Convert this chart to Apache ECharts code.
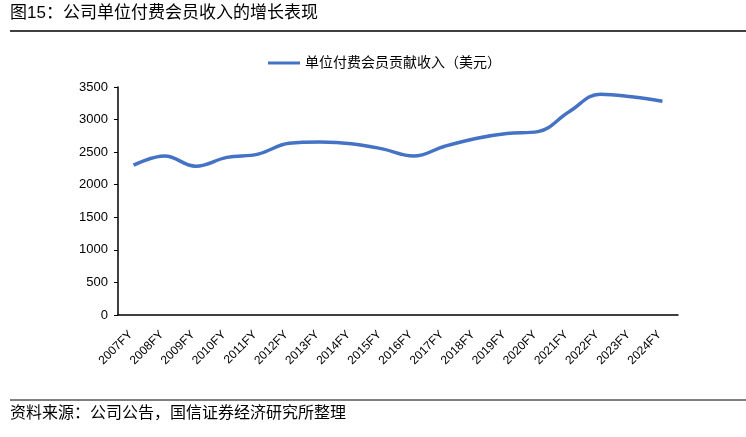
<!DOCTYPE html>
<html>
<head>
<meta charset="utf-8">
<script src="https://cdn.jsdelivr.net/npm/echarts@6/dist/echarts.min.js"></script>
<style>
html,body{margin:0;padding:0;background:#fff;}
#chart{width:746px;height:437px;}
</style>
</head>
<body>
<div id="chart"></div>
<script>
const categories = ['2007FY','2008FY','2009FY','2010FY','2011FY','2012FY','2013FY','2014FY','2015FY','2016FY','2017FY','2018FY','2019FY','2020FY','2021FY','2022FY','2023FY','2024FY'];
const revenuePerMember = [2300, 2440, 2285, 2420, 2470, 2635, 2655, 2630, 2550, 2440, 2590, 2710, 2785, 2815, 3120, 3390, 3350, 3280];
const seriesName = '单位付费会员贡献收入（美元）';
const titleText = '图15：公司单位付费会员收入的增长表现';
const sourceText = '资料来源：公司公告，国信证券经济研究所整理';

const cjk = '"Liberation Sans", "Noto Sans CJK SC", sans-serif';
const chart = echarts.init(document.getElementById('chart'));
chart.setOption({
  animation: false,
  backgroundColor: '#fff',
  legend: {
    top: 51,
    left: 263,
    itemWidth: 32,
    itemHeight: 12,
    itemGap: 6,
    icon: 'path://M0,5 L32,5 L32,8 L0,8 Z',
    textStyle: { fontSize: 14, color: '#000', fontFamily: cjk },
    data: [seriesName]
  },
  grid: { left: 118, right: 68, top: 87, bottom: 122 },
  xAxis: {
    type: 'category',
    data: categories,
    boundaryGap: true,
    axisLine: { lineStyle: { color: '#000', width: 1.5 } },
    axisTick: { show: false },
    axisLabel: { rotate: 45, fontSize: 12, color: '#000', fontFamily: '"Liberation Sans", Arial, sans-serif', margin: 15, padding: [0, 4, 0, 0], interval: 0 }
  },
  yAxis: {
    type: 'value',
    min: 0,
    max: 3500,
    interval: 500,
    splitLine: { show: false },
    axisLine: { show: true, lineStyle: { color: '#000', width: 1.5 } },
    axisTick: { show: true, inside: false, length: 4, lineStyle: { color: '#000' } },
    axisLabel: { fontSize: 13, color: '#000', fontFamily: '"Liberation Sans", Arial, sans-serif', margin: 10, formatter: function (v) { return String(v); } }
  },
  series: [{
    name: seriesName,
    type: 'line',
    data: revenuePerMember,
    smooth: 0.4,
    showSymbol: false,
    symbol: 'none',
    lineStyle: { color: '#4472C4', width: 3.5 },
    itemStyle: { color: '#4472C4' }
  }],
  graphic: [
    { type: 'text', left: 10, top: 5, style: { text: titleText, fontSize: 17, fill: '#000', fontFamily: cjk } },
    { type: 'line', shape: { x1: 10, y1: 31, x2: 746, y2: 31 }, style: { stroke: '#000', lineWidth: 1.5 } },
    { type: 'line', shape: { x1: 10, y1: 400, x2: 746, y2: 400 }, style: { stroke: '#000', lineWidth: 1 } },
    { type: 'text', left: 10, top: 406, style: { text: sourceText, fontSize: 16, fill: '#000', fontFamily: cjk } }
  ]
});
</script>
</body>
</html>
